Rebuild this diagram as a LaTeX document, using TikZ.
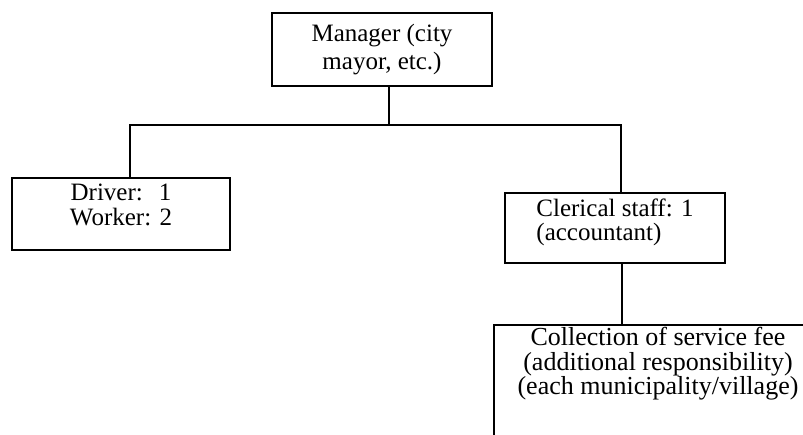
\documentclass[tikz,border=0pt]{standalone}
\usepackage{fontspec}
\setmainfont{Liberation Serif}
\usetikzlibrary{positioning}

\begin{document}
\begin{tikzpicture}[x=0.5pt, y=-0.5pt,
  box/.style={draw, rectangle, line width=1pt, inner sep=0pt},
  lbl/.style={font=\fontsize{12.5}{13}\selectfont, align=center, inner sep=0pt},
  link/.style={line width=1.4pt}
]
  \useasboundingbox (0,0) rectangle (803,434);
  \clip (0,0) rectangle (803,434);

  %% Boxes
  \node[box, minimum width=110pt, minimum height=36.5pt] (manager) at (382,49.5) {};
  \node[box, minimum width=109pt, minimum height=36pt] (driver) at (121,214) {};
  \node[box, minimum width=110pt, minimum height=35pt] (clerical) at (615,228) {};
  \node[box, minimum width=164pt, minimum height=75pt] (collect) at (658,400) {};

  %% Texts
  \node[lbl, font=\fontsize{12.5}{14}\selectfont] (managertxt) at (manager)
    {Manager (city\\mayor, etc.)};
  \node[lbl, font=\fontsize{12.5}{12.5}\selectfont, below=3.5pt of driver.north] (drivertxt)
    {Driver:\hspace{8pt}1\\Worker: 2};
  \node[lbl, align=left, font=\fontsize{12.5}{12}\selectfont, below=3pt of clerical.north] (clericaltxt)
    {Clerical staff: 1\\(accountant)};
  \node[lbl, font=\fontsize{13}{12.2}\selectfont, below=1.5pt of collect.north] (collecttxt)
    {Collection of service fee\\(additional responsibility)\\(each municipality/village)};

  %% Connectors
  \coordinate (bus) at (385,125);
  \draw[link] ([xshift=3.5pt]manager.south) -- ([xshift=3.5pt]manager.south |- bus);
  \draw[link] ([xshift=4.5pt]driver.north) |- ([xshift=3pt]clerical.north |- bus)
    -- ([xshift=3pt]clerical.north);
  \draw[link] ([xshift=3.5pt]clerical.south) -- ([xshift=3.5pt]clerical.south |- collect.north);
\end{tikzpicture}
\end{document}
